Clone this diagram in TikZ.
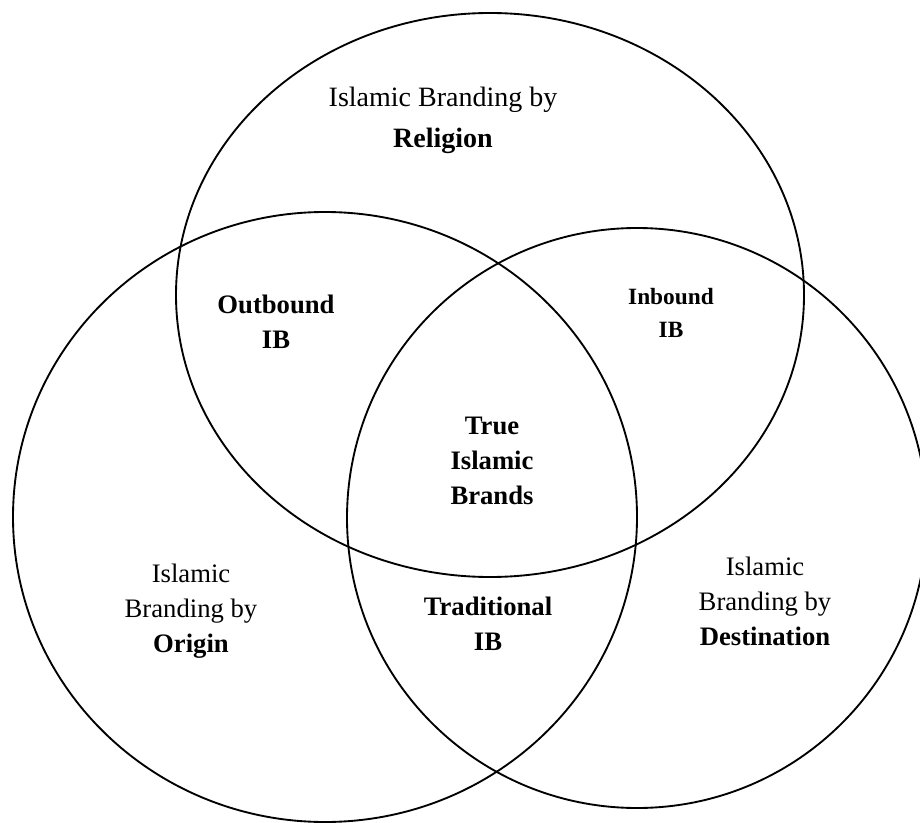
\documentclass[tikz,border=0pt]{standalone}
\usepackage{fontspec}
\setmainfont{Liberation Serif}

\tikzset{every picture/.style={line width=0.75pt}}
\tikzset{
  setlbl/.style={anchor=center, inner sep=0.75pt, align=center, font=\fontsize{20}{26.25}\selectfont},
  toplbl/.style={setlbl, font=\fontsize{21}{30.75}\selectfont},
  smalllbl/.style={setlbl, font=\fontsize{17.5}{24.5}\selectfont},
}

\begin{document}
\begin{tikzpicture}[x=0.75pt,y=0.75pt,yscale=-1,xscale=1]
%set diagram left start at 0, and has height of 823
\useasboundingbox (0,0) rectangle (920,823);
\clip (0,0) rectangle (920,823);

%Shape: Ellipse [id:religion] 
\draw  [line width=1.4]  (490,295) ellipse [x radius=314, y radius=282] ;
%Shape: Ellipse [id:origin] 
\draw  [line width=1.4]  (325,517) ellipse [x radius=312, y radius=305] ;
%Shape: Ellipse [id:destination] 
\draw  [line width=1.4]  (637,518) ellipse [x radius=290, y radius=290] ;

% Text Node
\draw (443,120) node (religion) [toplbl]    {Islamic Branding by\\\textbf{Religion}};
% Text Node
\draw (276,322) node (outbound) [setlbl]    {\textbf{Outbound}\\\textbf{IB}};
% Text Node
\draw (671,313) node (inbound) [smalllbl]    {\textbf{Inbound}\\\textbf{IB}};
% Text Node
\draw (492,461) node (trueib) [setlbl]    {\textbf{True}\\\textbf{Islamic}\\\textbf{Brands}};
% Text Node
\draw (191,611) node (origin) [setlbl]    {Islamic\\Branding by\\\textbf{Origin}};
% Text Node
\draw (488,624) node (traditional) [setlbl]    {\textbf{Traditional}\\\textbf{IB}};
% Text Node
\draw (765,601) node (destination) [setlbl]    {Islamic\\Branding by\\\textbf{Destination}};

\end{tikzpicture}
\end{document}
